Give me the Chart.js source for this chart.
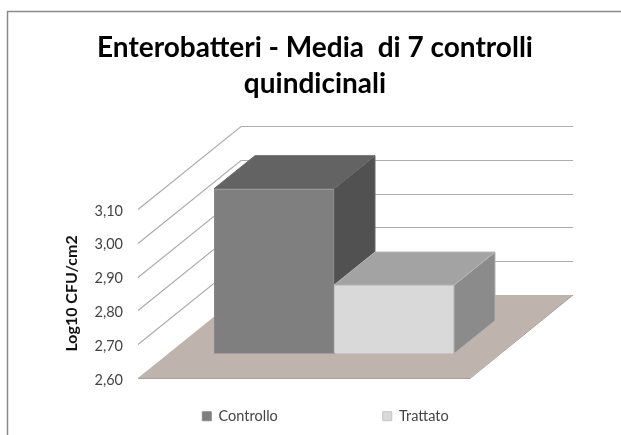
<!DOCTYPE html>
<html><head><meta charset="utf-8">
<style>html,body{margin:0;padding:0;background:#fff}#w{position:relative;width:621px;height:435px;overflow:hidden}canvas{filter:blur(0.4px)}</style>
<script src="https://cdn.jsdelivr.net/npm/chart.js@4"></script>
</head><body><div id="w"><canvas id="c" width="621" height="435"></canvas></div>
<script>
const categories = ['Media'];
const seriesNames = ['Controllo', 'Trattato'];
const controllo = [3.088];
const trattato = [2.803];
const tickLabels = ['2,60', '2,70', '2,80', '2,90', '3,00', '3,10'];
const titleLines = ['Enterobatteri - Media  di 7 controlli', 'quindicinali'];
const axisTitle = 'Log10 CFU/cm2';

const FLOOR = {x: 103, y: -83};
const OFFSET = {x: 30, y: -24.3};
const DEPTH = {x: 41, y: -33};
const faces = [{side: '#515151', top: '#636363', edge: '#6a6a6a'}, {side: '#8b8b8b', top: '#a3a3a3', edge: '#b5b5b5'}];

function poly(ctx, pts, fill, stroke) {
  ctx.beginPath();
  pts.forEach((p, i) => i ? ctx.lineTo(p[0], p[1]) : ctx.moveTo(p[0], p[1]));
  ctx.closePath();
  if (fill) { ctx.fillStyle = fill; ctx.fill(); }
  if (stroke) { ctx.strokeStyle = stroke; ctx.lineWidth = 1; ctx.stroke(); }
}

const scene3d = {
  id: 'scene3d',
  beforeDraw(chart) {
    const ctx = chart.ctx;
    ctx.save();
    ctx.strokeStyle = '#8a8a8a';
    ctx.lineWidth = 1.5;
    ctx.beginPath();
    ctx.moveTo(7.5, 435); ctx.lineTo(7.5, 11.5); ctx.lineTo(621, 11.5);
    ctx.stroke();
    ctx.restore();
  },
  afterLayout(chart) {
    const l = chart.legend;
    l.top = 304; l.height = 150; l.bottom = l.top + l.height;
    l.left += 90.5; l.right += 90.5;
    chart.titleBlock.left += 80; chart.titleBlock.right += 80;
  },
  beforeDatasetsDraw(chart) {
    const ctx = chart.ctx, a = chart.chartArea, y = chart.scales.y;
    const b = y.getPixelForValue(y.min);
    ctx.save();
    poly(ctx, [[a.left, b], [a.right, b], [a.right + FLOOR.x, b + FLOOR.y], [a.left + FLOOR.x, b + FLOOR.y]], '#bfb3ae', null);
    ctx.strokeStyle = '#a6a09c'; ctx.lineWidth = 1;
    ctx.beginPath();
    ctx.moveTo(a.left, b + .5); ctx.lineTo(a.right, b + .5); ctx.lineTo(a.right + FLOOR.x, b + FLOOR.y);
    ctx.stroke();
    ctx.strokeStyle = '#adadad';
    ctx.lineWidth = 1.2;
    y.ticks.forEach(t => {
      const p = Math.round(y.getPixelForValue(t.value)) + .5;
      if (t.value <= y.min) return;
      ctx.beginPath();
      ctx.moveTo(a.left, p);
      ctx.lineTo(a.left + FLOOR.x, p + FLOOR.y);
      ctx.lineTo(a.right + FLOOR.x, p + FLOOR.y);
      ctx.stroke();
    });
    chart.data.datasets.forEach((ds, i) => {
      const el = chart.getDatasetMeta(i).data[0];
      const L = el.x - el.width / 2 + OFFSET.x, R = el.x + el.width / 2 + OFFSET.x;
      const T = el.y + OFFSET.y, B = b + OFFSET.y;
      poly(ctx, [[R, T], [R + DEPTH.x, T + DEPTH.y], [R + DEPTH.x, B + DEPTH.y], [R, B]], faces[i].side, faces[i].edge);
      poly(ctx, [[L, T], [R, T], [R + DEPTH.x, T + DEPTH.y], [L + DEPTH.x, T + DEPTH.y]], faces[i].top, faces[i].edge);
    });
    ctx.restore();
    ctx.save();
    ctx.translate(OFFSET.x, OFFSET.y);
  },
  afterDatasetsDraw(chart) { chart.ctx.restore(); }
};

new Chart(document.getElementById('c'), {
  type: 'bar',
  plugins: [scene3d],
  data: {
    labels: categories,
    datasets: [
      {label: seriesNames[0], data: controllo, base: 2.6, backgroundColor: '#7f7f7f', borderColor: '#8a8a8a', borderWidth: 1},
      {label: seriesNames[1], data: trattato, base: 2.6, backgroundColor: '#d9d9d9', borderColor: '#c4c4c4', borderWidth: 1}
    ]
  },
  options: {
    responsive: false,
    animation: false,
    devicePixelRatio: 1,
    layout: {padding: {left: 0, right: 151, top: 0, bottom: 27}},
    datasets: {bar: {categoryPercentage: 0.723, barPercentage: 1}},
    scales: {
      x: {display: false},
      y: {
        min: 2.6, max: 3.1,
        afterFit(s) { s.width = 138; },
        grid: {display: false, drawTicks: false},
        border: {display: false},
        title: {display: true, text: axisTitle, color: '#111', font: {family: 'Lato', size: 16, weight: 'bold'}, padding: {top: 62, bottom: 0}},
        ticks: {
          stepSize: 0.1, padding: 15, labelOffset: 2, color: '#444',
          font: {family: 'Lato', size: 14.5},
          callback(v, i) { return tickLabels[i]; }
        }
      }
    },
    plugins: {
      tooltip: {enabled: false},
      title: {
        display: true, text: titleLines, color: '#000',
        font: {family: 'Lato', size: 28, weight: 'bold', lineHeight: 1.32},
        padding: {top: 29, bottom: 106}
      },
      legend: {
        position: 'bottom', maxHeight: 30,
        labels: {boxWidth: 9, boxHeight: 9, padding: 105, color: '#444', font: {family: 'Lato', size: 14.5}}
      }
    }
  }
});
</script></body></html>
